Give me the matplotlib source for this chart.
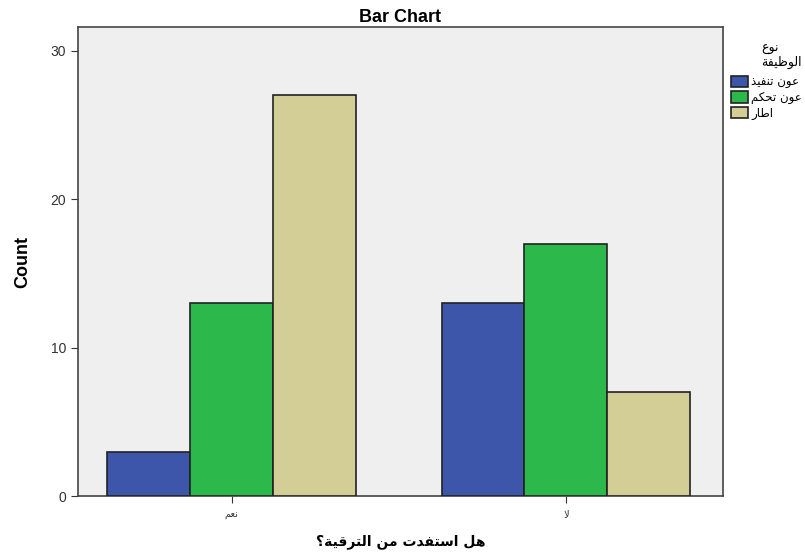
import numpy as np
import matplotlib.pyplot as plt

# donnees
categories = ["نعم", "لا"]
series_names = ["عون تنفيذ", "عون تحكم", "اطار"]
counts = [[3, 13],    # عون تنفيذ
          [13, 17],   # عون تحكم
          [27, 7]]    # اطار
colors = ["#3D56A9", "#2DB84B", "#D3CE96"]

# mise en forme minimale de l'arabe (formes de presentation + sens droite-gauche)
FORMS = {
    "ا": (0xFE8D, 0xFE8E), "د": (0xFEA9, 0xFEAA), "ذ": (0xFEAB, 0xFEAC),
    "ر": (0xFEAD, 0xFEAE), "و": (0xFEED, 0xFEEE), "ة": (0xFE93, 0xFE94),
    "ت": (0xFE95, 0xFE96, 0xFE97, 0xFE98), "ح": (0xFEA1, 0xFEA2, 0xFEA3, 0xFEA4),
    "س": (0xFEB1, 0xFEB2, 0xFEB3, 0xFEB4), "ط": (0xFEC1, 0xFEC2, 0xFEC3, 0xFEC4),
    "ظ": (0xFEC5, 0xFEC6, 0xFEC7, 0xFEC8), "ع": (0xFEC9, 0xFECA, 0xFECB, 0xFECC),
    "ف": (0xFED1, 0xFED2, 0xFED3, 0xFED4), "ق": (0xFED5, 0xFED6, 0xFED7, 0xFED8),
    "ك": (0xFED9, 0xFEDA, 0xFEDB, 0xFEDC), "ل": (0xFEDD, 0xFEDE, 0xFEDF, 0xFEE0),
    "م": (0xFEE1, 0xFEE2, 0xFEE3, 0xFEE4), "ن": (0xFEE5, 0xFEE6, 0xFEE7, 0xFEE8),
    "ه": (0xFEE9, 0xFEEA, 0xFEEB, 0xFEEC), "ي": (0xFEF1, 0xFEF2, 0xFEF3, 0xFEF4),
}

def ar(text):
    out = []
    chars = list(text)
    i = 0
    while i < len(chars):
        c = chars[i]
        if c not in FORMS:
            out.append(c)
            i += 1
            continue
        prev = chars[i - 1] if i > 0 else None
        join_prev = prev in FORMS and len(FORMS[prev]) == 4
        if c == "ل" and i + 1 < len(chars) and chars[i + 1] == "ا":
            out.append(chr(0xFEFC if join_prev else 0xFEFB))
            i += 2
            continue
        f = FORMS[c]
        nxt = chars[i + 1] if i + 1 < len(chars) else None
        join_next = len(f) == 4 and nxt in FORMS
        if join_prev and join_next:
            out.append(chr(f[3]))
        elif join_prev:
            out.append(chr(f[1]))
        elif join_next:
            out.append(chr(f[2]))
        else:
            out.append(chr(f[0]))
        i += 1
    return "".join(out[::-1])

arfont = ["DejaVu Sans"]

fig = plt.figure(figsize=(8.05, 5.53), dpi=100)
ax = fig.add_axes([0.097, 0.103, 0.801, 0.848])
ax.set_facecolor("#EFEFEF")

x = np.arange(len(categories))
w = 0.248
for k in range(len(series_names)):
    ax.bar(x + (k - 1) * w, counts[k], w, color=colors[k], edgecolor="#222222",
           linewidth=1.2, label=ar(series_names[k]), zorder=3)

ax.set_xlim(-0.46, 1.47)
ax.set_ylim(0, 31.6)
ax.set_yticks([0, 10, 20, 30])
ax.set_xticks(x)
ax.set_xticklabels([ar(c) for c in categories], family=arfont, fontsize=7)
ax.tick_params(axis="y", labelsize=10, colors="#333333", length=5)
ax.tick_params(axis="x", length=5, colors="#333333", pad=5)
for lab in ax.get_yticklabels():
    lab.set_family("Liberation Sans")
for s in ax.spines.values():
    s.set_color("#444444")
    s.set_linewidth(1.2)

ax.set_ylabel("Count", family="Liberation Sans", fontweight="bold", fontsize=13, labelpad=14)
ax.set_xlabel(ar("هل استفدت من الترقية؟"), family=arfont, fontweight="bold", fontsize=10, labelpad=10)
ax.set_title("Bar Chart", family="Liberation Sans", fontweight="bold", fontsize=13, pad=4)

leg = ax.legend(loc="upper left", bbox_to_anchor=(1.0, 0.985), frameon=False,
                title=ar("نوع") + "\n" + ar("الوظيفة"), prop={"family": arfont, "size": 8.5},
                handlelength=1.4, handleheight=1.1, handletextpad=0.3,
                labelspacing=0.2, borderaxespad=0.3)
leg.get_title().set_family(arfont)
leg.get_title().set_fontsize(9)
leg.get_title().set_linespacing(1.0)
leg._legend_box.align = "right"
leg._legend_box.sep = 5

fig.savefig("out.png", dpi=100)
